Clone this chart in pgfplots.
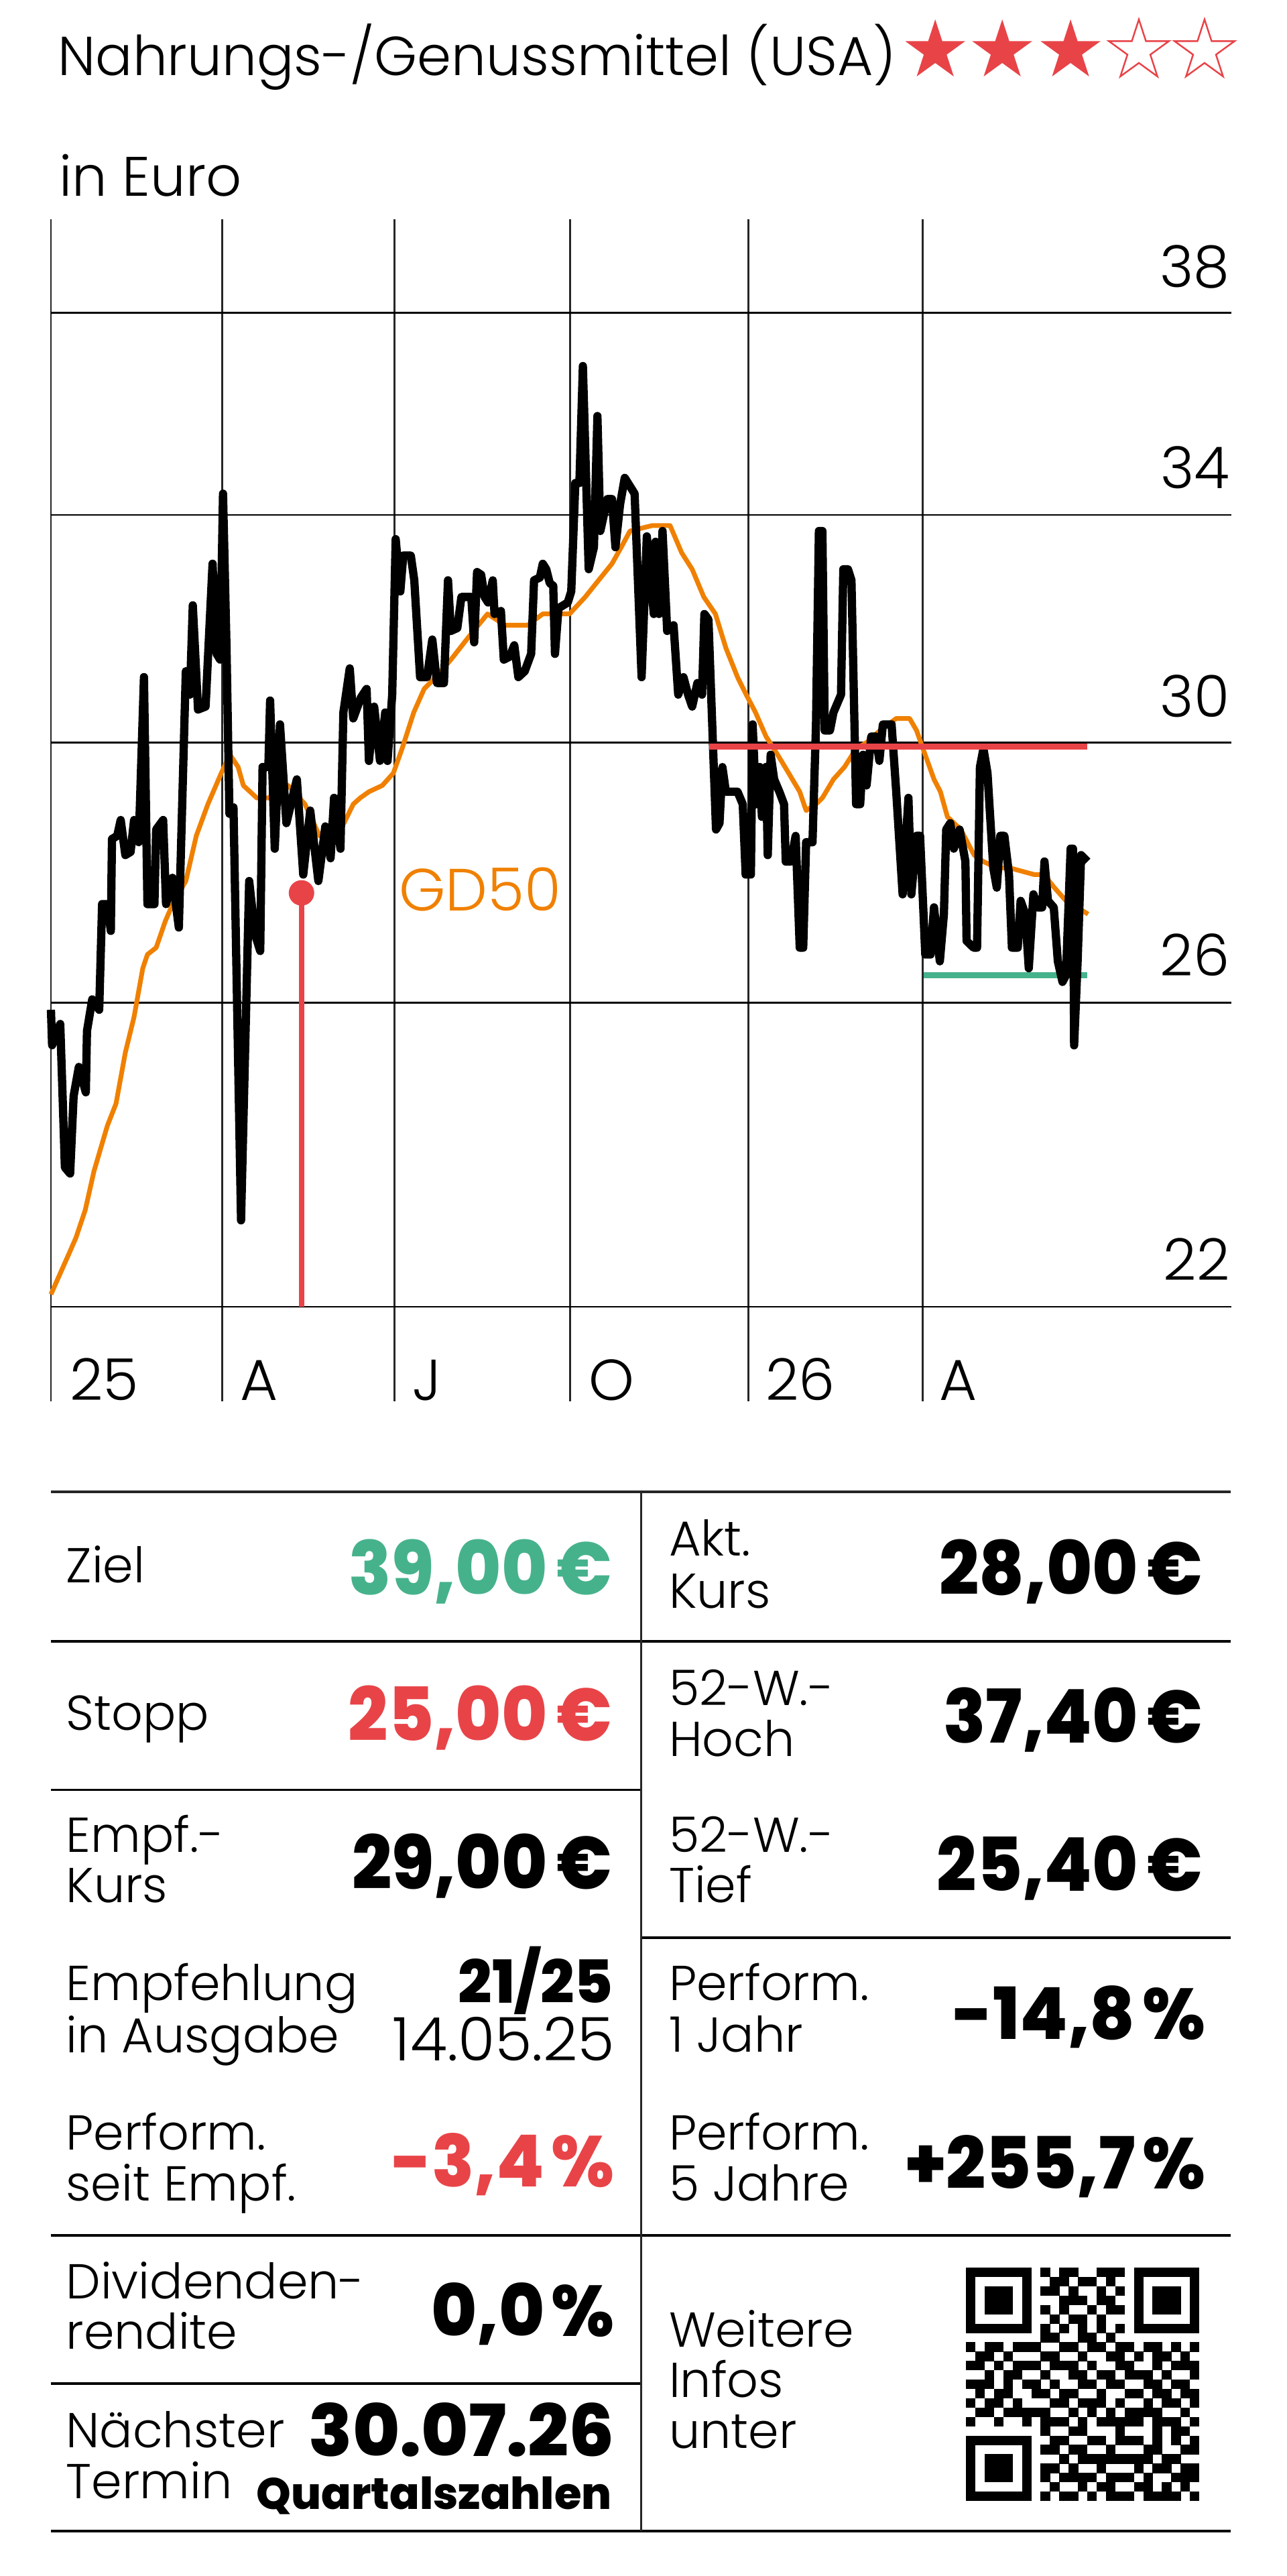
\documentclass[border=0pt]{standalone}
\usepackage{pgfplots}
\pgfplotsset{compat=1.18}
\usepackage{graphicx}
\usepackage{fontspec}
\IfFontExistsTF{Poppins Light}{\setmainfont{Poppins Light}}{\setmainfont{Poppins}}
\IfFontExistsTF{Poppins ExtraBold}{\newfontfamily\boldf{Poppins ExtraBold}}{\IfFontExistsTF{Poppins Bold}{\newfontfamily\boldf{Poppins Bold}}{\newfontfamily\boldf{Poppins}[FakeBold=3]}}
\definecolor{gdorange}{RGB}{240,128,0}
\definecolor{kred}{RGB}{232,68,72}
\definecolor{kgreen}{RGB}{70,178,140}
\newcommand\fs[1]{\fontsize{#1}{#1}\selectfont}
\newcommand\lab{\fs{20.8}}
\newcommand\val[1]{\scalebox{0.94}[1]{\boldf\fs{31.5}#1\hspace{0.13em}€}}
\newcommand\pct[1]{\scalebox{0.97}[1]{\boldf\fs{30.5}#1\hspace{0.1em}\%}}
\newcount\qrx
\newcount\qry
\def\qrline#1{\global\qrx=0 \qrnext#1\relax\global\advance\qry by 1 }
\def\qrnext#1{\ifx#1\relax\else\ifnum#1=1 \fill (1442+\the\qrx*13.92,3384+\the\qry*13.92) rectangle ++(14.3,14.3);\fi\global\advance\qrx by 1 \expandafter\qrnext\fi}
\newcommand\starpath[2]{(#1,#2-47) -- (#1+10.55,#2-14.52) -- (#1+44.7,#2-14.52) -- (#1+17.07,#2+5.55) -- (#1+27.63,#2+38.02) -- (#1,#2+17.95) -- (#1-27.63,#2+38.02) -- (#1-17.07,#2+5.55) -- (#1-44.7,#2-14.52) -- (#1-10.55,#2-14.52) -- cycle}

\pgfplotstableread{
m v
0.00 25.9
0.02 25.4
0.16 25.7
0.24 23.75
0.33 23.67
0.39 24.7
0.48 25.1
0.60 24.75
0.62 25.6
0.71 26.05
0.83 25.9
0.88 27.45
0.97 27.45
1.03 27.05
1.05 28.45
1.14 28.5
1.20 28.75
1.28 28.2
1.37 28.25
1.43 28.75
1.51 28.4
1.60 31.1
1.66 27.45
1.78 27.45
1.81 28.6
1.93 28.75
1.98 27.45
2.09 27.85
2.20 27.1
2.32 31.2
2.39 30.8
2.44 32.35
2.53 30.55
2.66 30.6
2.78 33.1
2.85 31.5
2.91 31.4
2.96 34.4
3.02 31.6
3.07 28.85
3.14 28.95
3.27 23.07
3.41 27.8
3.51 27.0
3.60 26.75
3.64 29.6
3.74 29.6
3.77 30.7
3.85 28.3
3.94 30.3
4.05 28.7
4.23 29.4
4.34 27.9
4.46 28.9
4.60 27.8
4.72 28.65
4.81 28.15
4.87 29.1
4.98 28.3
5.03 30.5
5.14 31.25
5.20 30.4
5.33 30.75
5.43 30.9
5.47 29.7
5.56 30.6
5.66 29.7
5.75 30.5
5.79 29.7
5.87 30.8
5.93 33.55
6.01 32.6
6.06 33.25
6.19 33.25
6.25 32.8
6.35 31.1
6.47 31.1
6.56 31.75
6.64 31.0
6.76 31.0
6.83 32.8
6.88 31.9
6.99 31.95
7.06 32.5
7.23 32.5
7.28 31.7
7.33 32.95
7.40 32.9
7.46 32.5
7.52 32.4
7.60 32.8
7.63 32.2
7.74 32.25
7.79 31.4
7.89 31.45
7.97 31.65
8.04 31.1
8.15 31.2
8.26 31.5
8.31 32.8
8.41 32.85
8.46 33.1
8.52 33.0
8.58 32.75
8.64 32.7
8.67 31.5
8.73 32.3
8.89 32.4
8.95 32.6
9.02 34.6
9.09 34.6
9.15 36.9
9.25 33.0
9.34 33.4
9.40 35.9
9.45 33.7
9.57 34.3
9.65 34.3
9.71 33.4
9.79 34.2
9.87 34.7
10.04 34.4
10.16 31.1
10.25 33.6
10.37 32.2
10.40 33.5
10.46 32.2
10.52 33.7
10.60 31.9
10.71 32.0
10.79 30.8
10.88 31.1
10.96 30.8
11.03 30.6
11.12 31.0
11.20 30.8
11.24 32.2
11.31 32.1
11.44 28.6
11.50 28.7
11.55 29.6
11.61 29.2
11.81 29.2
11.90 29.0
11.95 27.9
12.04 27.9
12.07 30.3
12.13 29.0
12.19 29.6
12.23 28.8
12.30 29.6
12.33 28.2
12.38 29.8
12.44 29.4
12.53 29.2
12.61 29.0
12.64 28.1
12.73 28.1
12.81 28.5
12.88 26.8
12.94 26.8
12.99 28.4
13.10 28.4
13.16 30.3
13.21 33.7
13.27 33.7
13.31 30.2
13.40 30.2
13.46 30.5
13.59 30.8
13.63 33.0
13.71 33.0
13.77 32.8
13.85 29.0
13.92 29.0
13.97 29.8
14.03 29.3
14.11 30.1
14.19 30.1
14.25 29.7
14.31 30.3
14.46 30.3
14.54 29.2
14.65 27.6
14.75 29.1
14.80 27.6
14.89 28.5
14.95 28.5
15.04 26.7
15.13 26.7
15.19 27.4
15.29 26.6
15.36 27.3
15.40 28.6
15.47 28.7
15.53 28.3
15.63 28.6
15.73 28.1
15.75 26.9
15.87 26.8
15.93 26.8
15.98 29.6
16.04 29.9
16.11 29.5
16.21 28.0
16.27 27.7
16.33 28.5
16.40 28.5
16.48 27.9
16.53 26.8
16.63 26.8
16.68 27.5
16.76 27.3
16.82 26.5
16.90 27.6
16.97 27.4
17.05 27.4
17.09 28.1
17.15 27.5
17.25 27.4
17.32 26.6
17.40 26.3
17.46 26.4
17.54 28.3
17.58 28.3
17.60 25.4
17.66 26.6
17.72 28.2
17.83 28.1
}\kurs

\pgfplotstableread{
m v
0.00 22.15
0.31 22.65
0.43 22.85
0.59 23.2
0.74 23.7
0.97 24.3
1.12 24.6
1.28 25.3
1.43 25.8
1.58 26.5
1.66 26.7
1.81 26.8
1.97 27.2
2.12 27.5
2.32 27.8
2.50 28.5
2.70 29.0
2.93 29.5
3.08 29.8
3.22 29.6
3.31 29.3
3.54 29.1
3.74 29.1
4.08 29.3
4.37 29.0
4.62 28.5
5.04 28.7
5.20 29.0
5.32 29.1
5.47 29.2
5.70 29.3
5.89 29.5
6.04 29.9
6.24 30.5
6.42 30.9
6.62 31.1
6.88 31.4
7.19 31.8
7.51 32.2
7.81 32.0
8.20 32.0
8.46 32.2
8.92 32.2
9.19 32.5
9.42 32.8
9.65 33.1
9.81 33.4
9.96 33.7
10.34 33.8
10.65 33.8
10.85 33.3
11.03 33.0
11.23 32.5
11.43 32.2
11.61 31.6
11.81 31.1
11.96 30.8
12.12 30.5
12.30 30.1
12.50 29.8
12.69 29.5
12.88 29.2
12.99 28.9
13.16 29.0
13.27 29.1
13.46 29.4
13.65 29.6
13.85 29.9
14.03 30.0
14.26 30.2
14.54 30.4
14.77 30.4
14.89 30.2
15.00 29.9
15.19 29.4
15.30 29.2
15.42 28.8
15.65 28.6
15.88 28.2
16.04 28.1
16.27 28.0
16.50 28.0
16.91 27.9
17.08 27.9
17.26 27.7
17.46 27.5
17.65 27.4
17.84 27.3
}\gd

\begin{document}
\begin{tikzpicture}
\path[use as bounding box] (0,0) rectangle (19.2cm,-38.42cm);
% vertical grid lines (under data)
\begin{scope}[x=0.01cm,y=-0.01cm]
\foreach \gx in {76,332,589,851,1117,1377}{\draw[black!85,line width=0.8pt] (\gx,327) -- (\gx,2091);}
\end{scope}
\begin{axis}[
  at={(0.76cm,-19.49cm)}, anchor=south west, scale only axis,
  width=17.61cm, height=16.22cm,
  xmin=0, xmax=20.305, ymode=log, ymin=22, ymax=40,
  axis line style={draw=none},
  xtick=\empty, ytick={22,26,30,34,38}, yticklabels={},
  major tick length=0pt,
  ymajorgrids, grid style={black, line width=0.8pt},
  clip=false,
]
\addplot[gdorange, line width=2pt, line join=round] table[x=m,y=v] {\gd};
\addplot[kgreen, line width=2.6pt] coordinates {(15.01,26.40) (17.83,26.40)};
\addplot[black, line width=3.5pt, line join=round] table[x=m,y=v] {\kurs};
\addplot[kred, line width=2.6pt] coordinates {(11.32,29.93) (17.83,29.93)};
\addplot[kred, line width=2.4pt] coordinates {(4.31,27.62) (4.31,22)};
\addplot[kred, only marks, mark=*, mark size=5.2pt] coordinates {(4.31,27.62)};
\end{axis}
\begin{scope}[x=0.01cm,y=-0.01cm]
% title
\node[anchor=base west, inner sep=0] at (86,113) {\fs{23.3}Nahrungs-/Genussmittel (USA)};
\fill[kred] \starpath{1396}{76};
\fill[kred] \starpath{1496}{76};
\fill[kred] \starpath{1598}{76};
\draw[kred, line width=0.7pt, line join=miter] \starpath{1700}{76};
\draw[kred, line width=0.7pt, line join=miter] \starpath{1798}{76};
\node[anchor=base west, inner sep=0] at (88,293) {\fs{23.6}in Euro};
% y labels
\foreach \yy/\tt in {429/38,729/34,1070/30,1456/26,1911/22}{\node[anchor=base east, inner sep=0] at (1836,\yy) {\fs{24.5}\tt};}
% x labels
\begin{scope}
\clip (0,1960) rectangle (1920,2091);
\foreach \xx/\tt in {104/25,358/A,615/J,878/O,1142/26,1402/A}{\node[anchor=base west, inner sep=0] at (\xx,2090) {\fs{24.5}\tt};}
\end{scope}
\node[anchor=base west, inner sep=0, text=gdorange] at (595,1359) {\fs{25.3}GD50};
% table lines
\draw[black!85, line width=1.1pt] (76,2226) -- (1837,2226);
\draw[black, line width=1.1pt] (76,2449) -- (1837,2449);
\draw[black, line width=1.1pt] (76,2671) -- (957,2671);
\draw[black, line width=1.1pt] (957,2892) -- (1837,2892);
\draw[black, line width=1.1pt] (76,3336) -- (1837,3336);
\draw[black, line width=1.1pt] (76,3557) -- (957,3557);
\draw[black, line width=1.1pt] (76,3777) -- (1837,3777);
\draw[black!85, line width=0.75pt] (957,2226) -- (957,3777);
% left column
\node[anchor=base west, inner sep=0] at (98,2362) {\lab Ziel};
\node[anchor=base east, inner sep=0, text=kgreen] at (914,2380) {\val{39,00}};
\node[anchor=base west, inner sep=0] at (98,2582) {\lab Stopp};
\node[anchor=base east, inner sep=0, text=kred] at (914,2598) {\val{25,00}};
\node[anchor=base west, inner sep=0] at (98,2764) {\lab Empf.-};
\node[anchor=base west, inner sep=0] at (98,2839) {\lab Kurs};
\node[anchor=base east, inner sep=0] at (914,2819) {\val{29,00}};
\node[anchor=base west, inner sep=0] at (98,2985) {\lab Empfehlung};
\node[anchor=base west, inner sep=0] at (98,3063) {\lab in Ausgabe};
\node[anchor=base east, inner sep=0] at (916,2989) {\boldf\fs{25.2}21/25};
\node[anchor=base east, inner sep=0] at (918,3075) {\fs{25.5}14.05.25};
\node[anchor=base west, inner sep=0] at (98,3208) {\lab Perform.};
\node[anchor=base west, inner sep=0] at (98,3284) {\lab seit Empf.};
\node[anchor=base east, inner sep=0, text=kred] at (918,3263) {\pct{-3,4}};
\node[anchor=base west, inner sep=0] at (98,3430) {\lab Dividenden-};
\node[anchor=base west, inner sep=0] at (98,3505) {\lab rendite};
\node[anchor=base east, inner sep=0] at (918,3486) {\pct{0,0}};
\node[anchor=base west, inner sep=0] at (98,3653) {\lab Nächster};
\node[anchor=base west, inner sep=0] at (98,3729) {\lab Termin};
\node[anchor=base east, inner sep=0] at (918,3666) {\boldf\fs{30.5}30.07.26};
\node[anchor=base east, inner sep=0] at (914,3745) {\boldf\fs{18.7}Quartalszahlen};
% right column
\node[anchor=base west, inner sep=0] at (998,2322) {\lab Akt.};
\node[anchor=base west, inner sep=0] at (998,2400) {\lab Kurs};
\node[anchor=base east, inner sep=0] at (1796,2380) {\val{28,00}};
\node[anchor=base west, inner sep=0] at (998,2545) {\lab 52-W.-};
\node[anchor=base west, inner sep=0] at (998,2621) {\lab Hoch};
\node[anchor=base east, inner sep=0] at (1796,2601) {\val{37,40}};
\node[anchor=base west, inner sep=0] at (998,2764) {\lab 52-W.-};
\node[anchor=base west, inner sep=0] at (998,2839) {\lab Tief};
\node[anchor=base east, inner sep=0] at (1796,2822) {\val{25,40}};
\node[anchor=base west, inner sep=0] at (998,2985) {\lab Perform.};
\node[anchor=base west, inner sep=0] at (998,3062) {\lab 1 Jahr};
\node[anchor=base east, inner sep=0] at (1800,3043) {\pct{-14,8}};
\node[anchor=base west, inner sep=0] at (998,3208) {\lab Perform.};
\node[anchor=base west, inner sep=0] at (998,3284) {\lab 5 Jahre};
\node[anchor=base east, inner sep=0] at (1800,3266) {\pct{+255,7}};
\node[anchor=base west, inner sep=0] at (998,3502) {\lab Weitere};
\node[anchor=base west, inner sep=0] at (998,3578) {\lab Infos};
\node[anchor=base west, inner sep=0] at (998,3654) {\lab unter};
% QR code
\global\qry=0
\qrline{1111111010110011101111111}
\qrline{1000001001101101001000001}
\qrline{1011101011010010101011101}
\qrline{1011101000111011001011101}
\qrline{1011101010100101101011101}
\qrline{1000001001011010001000001}
\qrline{1111111010101010101111111}
\qrline{0000000011001101000000000}
\qrline{1011011100110110110110101}
\qrline{0110100011001001101011010}
\qrline{1101011101110100110010111}
\qrline{0010110010011011011101001}
\qrline{1110101101001101100110110}
\qrline{0101100110110010011011011}
\qrline{1011010001101110100101101}
\qrline{0110111110010101011110010}
\qrline{1001001011101011111011101}
\qrline{0000000010011000100010110}
\qrline{1111111001100110111010101}
\qrline{1000001011011001000110011}
\qrline{1011101000101111111101100}
\qrline{1011101011010010001011011}
\qrline{1011101010111101110100111}
\qrline{1000001001001011001101010}
\qrline{1111111010110101110111101}
\end{scope}
\end{tikzpicture}
\end{document}
